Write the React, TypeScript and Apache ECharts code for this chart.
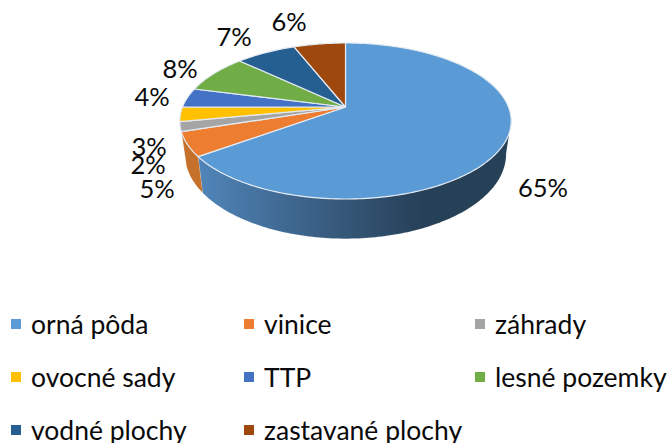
import React, { useEffect, useRef } from "react";
import * as echarts from "echarts";

const categories = ["orná pôda", "vinice", "záhrady", "ovocné sady", "TTP", "lesné pozemky", "vodné plochy", "zastavané plochy"];
const shares = [65, 5, 2, 3, 4, 8, 7, 6];

const sliceColors = ["#5B9BD5", "#ED7D31", "#A5A5A5", "#FFC000", "#4472C4", "#70AD47", "#255E91", "#9E480E"];
const labelAnchors: [number, number][] = [[543, 187], [157, 188], [148, 164], [149, 146], [152, 96], [180, 68], [234, 36], [289, 21]];
const legendSlots: [number, number][] = [[11, 324], [244, 324], [475, 324], [11, 377], [244, 377], [475, 377], [11, 430], [244, 430]];

const FONT = "Lato, 'Open Sans', sans-serif";
const LABEL_SIZE = 25.5;
const LEGEND_SIZE = 26.5;
const CX = 345.5;
const P = 0.1795;
const TOP = { cy: 107, a: 163, b: 75.5 };
const BOTTOM = { cy: 139, a: 158, b: 81.8 };
const total = shares.reduce((s, v) => s + v, 0);

function project(deg: number, d: { cy: number; a: number; b: number }): number[] {
  const t = (deg * Math.PI) / 180;
  const u = Math.sin(t);
  const v = -Math.cos(t);
  const k = 1 - P * v;
  return [CX + (d.a * u) / k, d.cy + (d.b * v) / k];
}

function arc(from: number, to: number, d: { cy: number; a: number; b: number }): number[][] {
  const pts: number[][] = [];
  const n = Math.max(2, Math.ceil(Math.abs(to - from)));
  for (let i = 0; i <= n; i++) pts.push(project(from + ((to - from) * i) / n, d));
  return pts;
}

function wallFill(i: number): any {
  if (i === 0) {
    return new echarts.graphic.LinearGradient(0, 0, 1, 0, [
      { offset: 0, color: "#5085B9" },
      { offset: 0.45, color: "#36587A" },
      { offset: 0.72, color: "#264057" },
      { offset: 1, color: "#264057" },
    ]);
  }
  return "#C5702B";
}

function makeRenderItem(i: number) {
  const before = shares.slice(0, i).reduce((s, v) => s + v, 0);
  const start = (before / total) * 360;
  const end = ((before + shares[i]) / total) * 360;
  return () => {
    const children: any[] = [];
    const wallFrom = Math.max(start, 100);
    const wallTo = Math.min(end, 252);
    if (wallTo > wallFrom) {
      children.push({
        type: "polygon",
        shape: { points: [...arc(wallFrom, wallTo, TOP), ...arc(wallTo, wallFrom, BOTTOM)] },
        style: { fill: wallFill(i), stroke: "rgba(255,255,255,0.25)", lineWidth: 0.5 },
        z2: 1,
      });
    }
    children.push({
      type: "polygon",
      shape: { points: [[CX, TOP.cy], ...arc(start, end, TOP)] },
      style: { fill: sliceColors[i], stroke: "#E3EAF2", lineWidth: 1.2, lineJoin: "round" },
      z2: 2,
    });
    children.push({
      type: "text",
      style: {
        text: shares[i] + "%",
        x: labelAnchors[i][0],
        y: labelAnchors[i][1],
        fill: "#0A0A0A",
        font: `${LABEL_SIZE}px ${FONT}`,
        textAlign: "center",
        textVerticalAlign: "middle",
      },
      z2: 5,
    });
    return { type: "group", children };
  };
}

export default function App() {
  const ref = useRef<HTMLDivElement>(null);
  useEffect(() => {
    if (!ref.current) return;
    const chart = echarts.init(ref.current, undefined, { renderer: "svg" });
    chart.setOption({
      animation: false,
      backgroundColor: "#ffffff",
      legend: categories.map((name, i) => ({
        data: [{ name, itemStyle: { color: sliceColors[i] } }],
        left: legendSlots[i][0],
        top: legendSlots[i][1] - 17,
        padding: 0,
        selectedMode: false,
        icon: "rect",
        itemWidth: 10,
        itemHeight: 10,
        textStyle: {
          fontFamily: FONT,
          fontSize: LEGEND_SIZE,
          color: "#0A0A0A",
          padding: [0, 0, 4, 5],
          lineHeight: 30,
        },
      })),
      series: categories.map((name, i) => ({
        type: "custom",
        name,
        coordinateSystem: "none",
        clip: false,
        silent: true,
        itemStyle: { color: sliceColors[i] },
        data: [[shares[i]]],
        renderItem: makeRenderItem(i),
      })),
    });
    return () => chart.dispose();
  }, []);
  return <div ref={ref} style={{ position: "absolute", left: 0, top: 0, width: 671, height: 443 }} />;
}
